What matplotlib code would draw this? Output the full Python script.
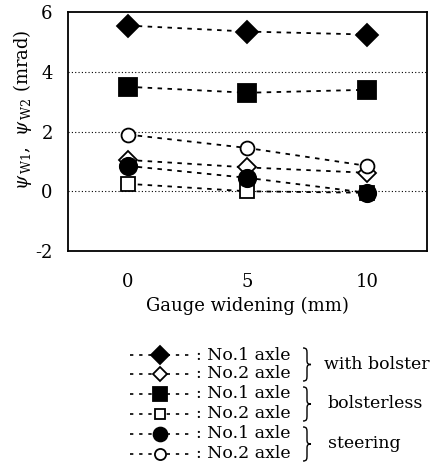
import matplotlib.pyplot as plt
from matplotlib.lines import Line2D
from matplotlib.path import Path
from matplotlib.patches import PathPatch

plt.rcParams['font.family'] = ['DejaVu Serif']
plt.rcParams['mathtext.fontset'] = 'dejavuserif'
plt.rcParams['axes.unicode_minus'] = False

# gauge widening (mm)
widening = [0, 5, 10]

bolster_no1 = [5.55, 5.35, 5.25]
bolster_no2 = [1.05, 0.8, 0.62]
bolsterless_no1 = [3.5, 3.3, 3.4]
bolsterless_no2 = [0.25, 0.0, -0.05]
steering_no1 = [0.85, 0.45, -0.05]
steering_no2 = [1.9, 1.45, 0.85]

series = [
    (bolster_no1, 'D', 'black', 11),
    (bolster_no2, 'D', 'white', 9),
    (bolsterless_no1, 's', 'black', 13),
    (bolsterless_no2, 's', 'white', 9.5),
    (steering_no1, 'o', 'black', 12.5),
    (steering_no2, 'o', 'white', 10),
]
groups = ['with bolster', 'bolsterless', 'steering']

fig = plt.figure(figsize=(4.33, 4.67), dpi=100)
ax = fig.add_axes([0.157, 0.4625, 0.829, 0.5115])

for yv in [4, 2, 0]:
    ax.axhline(yv, color='black', lw=0.8, ls=(0, (1, 2)), zorder=0)

for vals, mk, fc, ms in series:
    ax.plot(widening, vals, color='black', lw=1.3, ls=(0, (2.5, 3)),
            marker=mk, ms=ms, mfc=fc, mec='black', mew=1.3)

ax.set_xlim(-2.5, 12.5)
ax.set_ylim(-2, 6)
ax.set_xticks(widening)
ax.set_yticks([-2, 0, 2, 4, 6])
ax.tick_params(length=0, labelsize=13)
ax.tick_params(axis='x', pad=16)
ax.tick_params(axis='y', pad=11)
for s in ax.spines.values():
    s.set_linewidth(1.3)
ax.set_xlabel('Gauge widening (mm)', fontsize=13, labelpad=4)
ax.set_ylabel(r'$\psi_{\,\mathrm{W1}}$,  $\psi_{\,\mathrm{W2}}$ (mrad)', fontsize=13)
ax.yaxis.set_label_coords(-0.095, 0.59)


def brace(x, yt, yb, w=8):
    ym = (yt + yb) / 2
    h = w * 0.5
    verts = [(x, yt), (x + h, yt), (x + h, yt + 2), (x + h, yt + 6),
             (x + h, ym - 4),
             (x + h, ym - 1), (x + h + 1, ym), (x + w, ym),
             (x + h + 1, ym), (x + h, ym + 1), (x + h, ym + 4),
             (x + h, yb - 6),
             (x + h, yb - 2), (x + h, yb), (x, yb)]
    codes = [Path.MOVETO, Path.CURVE4, Path.CURVE4, Path.CURVE4,
             Path.LINETO,
             Path.CURVE4, Path.CURVE4, Path.CURVE4,
             Path.CURVE4, Path.CURVE4, Path.CURVE4,
             Path.LINETO,
             Path.CURVE4, Path.CURVE4, Path.CURVE4]
    return PathPatch(Path(verts, codes), fill=False, lw=1.0, ec='black')


# hand-built legend in pixel coordinates
lg = fig.add_axes([0, 0, 1, 1], facecolor='none')
lg.set_xlim(0, 433)
lg.set_ylim(467, 0)
lg.axis('off')
row_y = [355, 374, 394, 414, 434, 454]
for i, (vals, mk, fc, ms) in enumerate(series):
    y = row_y[i]
    lg.add_line(Line2D([130, 192], [y, y], color='black', lw=1.2, ls=(0, (2, 3.5))))
    lg.plot([160], [y], marker=mk, ms=ms * 0.8, mfc=fc, mec='black', mew=1.3, color='black')
    lg.text(196, y, ': No.%d axle' % (i % 2 + 1), fontsize=12.5, va='center', ha='left')
for j, g in enumerate(groups):
    yt = row_y[2 * j] - 7
    yb = row_y[2 * j + 1] + 7
    lg.add_patch(brace(303, yt, yb))
    lg.text(324 if j == 0 else 328, (yt + yb) / 2, g, fontsize=12.5, va='center', ha='left')

fig.savefig('out.png', dpi=100)
